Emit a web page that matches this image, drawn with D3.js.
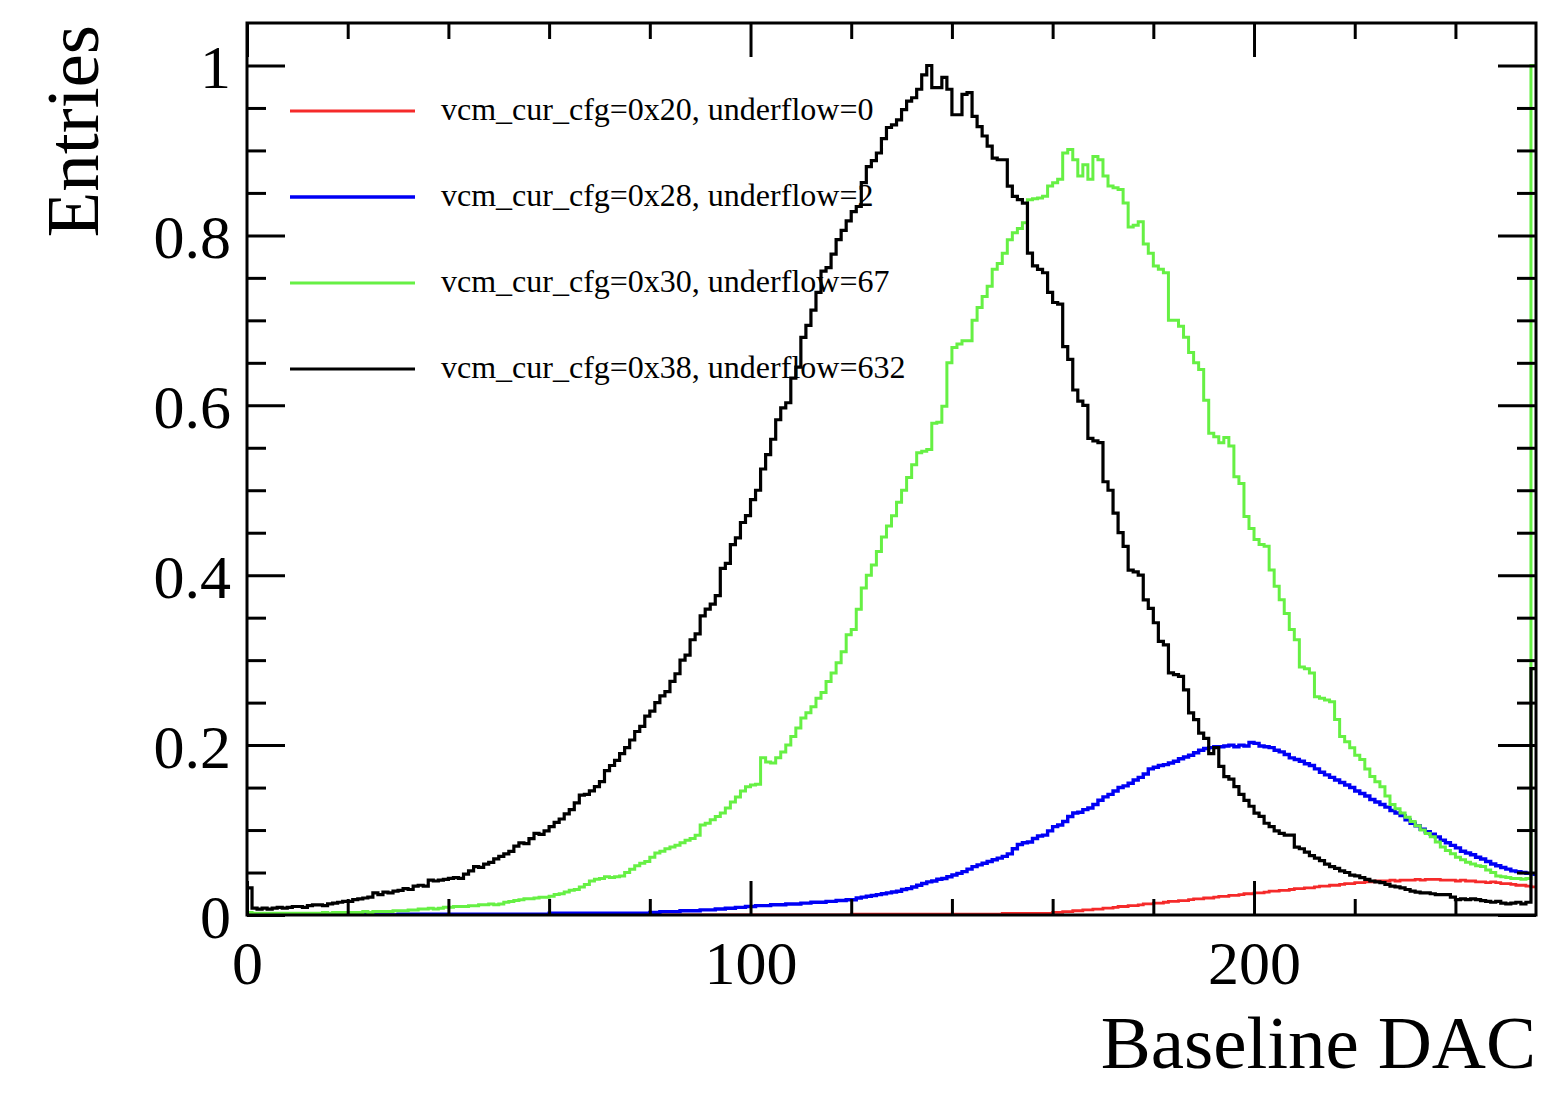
<html>
<head>
  <script src="https://d3js.org/d3.v7.min.js"></script>
  <style>
    body { margin: 0; background: #fff; }
    text { font-family: "Liberation Serif", "Times New Roman", serif; fill: #000; }
  </style>
</head>
<body>
  <div id="chart"></div>
  <script>
    // normalised bin contents, one value per DAC bin 0..255
    const cfg20 = [
      0,0,0,0,0,0,0,0,0,0,0,0,0,0,0,0,
      0,0,0,0,0,0,0,0,0,0,0,0,0,0,0,0,
      0,0,0,0,0,0,0,0,0,0,0,0,0,0,0,0,
      0,0,0,0,0,0,0,0,0,0,0,0,0,0,0,0,
      0,0,0,0,0,0,0,0,0,0,0,0,0,0,0,0,
      0,0,0,0,0,0,0,0,0,0,0,0,0,0,0,0,
      0,0,0,0,0,0,0,0,0,0,0,0,0,0,0,0,
      0,0,0,0,0,0,0,0,.001,.001,.001,.001,.001,.001,.001,.001,
      .001,.001,.001,.001,.001,.001,.001,.001,.001,.001,.001,.001,.001,.001,.001,.001,
      .001,.001,.001,.001,.001,.001,.002,.002,.002,.002,.002,.002,.002,.002,.002,.002,
      .003,.003,.004,.004,.005,.005,.006,.006,.007,.007,.008,.008,.009,.010,.010,.011,
      .011,.012,.013,.013,.014,.014,.015,.016,.016,.017,.017,.018,.019,.019,.020,.020,
      .021,.022,.022,.023,.023,.024,.025,.025,.026,.026,.027,.028,.028,.029,.029,.030,
      .031,.031,.032,.032,.033,.034,.034,.035,.035,.036,.037,.037,.038,.038,.039,.039,
      .040,.040,.040,.041,.040,.041,.041,.041,.042,.041,.042,.042,.042,.041,.041,.041,
      .040,.041,.040,.040,.039,.039,.038,.039,.038,.037,.037,.036,.035,.035,.034,.033
    ];
    const cfg28 = [
      0,0,0,0,0,0,0,0,0,0,0,0,0,0,0,0,
      0,0,0,0,0,0,0,0,0,0,0,0,0,0,.001,.001,
      .001,.001,.001,.001,.001,.001,.001,.001,.001,.001,.001,.001,.001,.001,.001,.001,
      .001,.001,.001,.001,.001,.001,.001,.001,.001,.001,.001,.001,.002,.002,.002,.002,
      .002,.002,.002,.002,.002,.002,.002,.002,.002,.002,.002,.002,.002,.002,.002,.002,
      .003,.003,.004,.004,.004,.004,.005,.005,.005,.005,.006,.006,.006,.007,.007,.008,
      .008,.009,.009,.010,.010,.011,.011,.011,.012,.012,.012,.013,.013,.013,.014,.014,
      .015,.015,.015,.016,.016,.017,.017,.018,.018,.020,.021,.022,.023,.024,.025,.026,
      .027,.028,.030,.031,.033,.035,.037,.039,.040,.042,.043,.045,.047,.049,.051,.054,
      .057,.059,.061,.063,.065,.067,.069,.072,.078,.083,.085,.086,.090,.093,.094,.099,
      .104,.106,.110,.116,.120,.121,.124,.126,.130,.135,.139,.142,.146,.150,.152,.155,
      .159,.162,.166,.172,.174,.176,.177,.179,.181,.184,.186,.188,.191,.194,.196,.197,
      .198,.198,.199,.200,.198,.200,.199,.203,.202,.199,.198,.197,.194,.192,.189,.185,
      .183,.181,.178,.176,.172,.168,.165,.162,.159,.156,.153,.150,.146,.143,.140,.136,
      .133,.130,.127,.123,.120,.117,.112,.108,.105,.101,.098,.095,.092,.088,.085,.082,
      .079,.075,.073,.071,.068,.066,.063,.060,.058,.056,.054,.052,.051,.050,.049,.048
    ];
    const cfg30 = [
      .003,.002,.002,.002,.002,.002,.002,.002,.002,.002,.002,.002,.002,.002,.002,.003,
      .002,.003,.003,.003,.003,.003,.003,.004,.003,.004,.004,.004,.004,.005,.005,.005,
      .006,.006,.007,.007,.008,.007,.008,.009,.009,.010,.010,.010,.011,.011,.012,.012,
      .013,.012,.013,.015,.016,.017,.018,.019,.019,.020,.021,.021,.022,.024,.025,.027,
      .029,.030,.033,.036,.040,.042,.043,.045,.044,.045,.046,.050,.054,.058,.061,.063,
      .068,.073,.075,.078,.080,.082,.085,.088,.090,.094,.106,.108,.112,.116,.120,.126,
      .133,.139,.146,.151,.153,.154,.185,.180,.179,.185,.192,.200,.210,.220,.232,.238,
      .245,.255,.262,.275,.285,.297,.310,.330,.336,.360,.385,.400,.412,.428,.445,.458,
      .470,.486,.500,.515,.530,.544,.546,.548,.579,.580,.599,.650,.668,.672,.676,.676,
      .700,.715,.728,.740,.760,.767,.779,.795,.803,.808,.815,.842,.843,.844,.846,.858,
      .862,.866,.897,.901,.889,.870,.883,.866,.893,.889,.870,.858,.856,.854,.838,.810,
      .812,.816,.790,.779,.764,.760,.756,.700,.700,.693,.680,.662,.650,.642,.606,.567,
      .563,.556,.562,.552,.516,.508,.469,.455,.442,.436,.434,.406,.387,.371,.355,.336,
      .324,.292,.290,.285,.257,.255,.253,.251,.230,.210,.204,.197,.188,.183,.172,.163,
      .157,.151,.140,.130,.125,.120,.115,.110,.105,.100,.096,.092,.086,.080,.076,.072,
      .068,.065,.062,.060,.058,.057,.053,.050,.046,.045,.044,.043,.043,.042,.043,1.000
    ];
    const cfg38 = [
      .032,.008,.007,.008,.007,.008,.009,.008,.009,.010,.010,.009,.011,.012,.012,.011,
      .013,.014,.015,.016,.016,.018,.019,.020,.021,.026,.024,.027,.026,.028,.029,.031,
      .030,.034,.035,.034,.041,.040,.041,.042,.043,.044,.043,.048,.052,.057,.056,.060,
      .062,.066,.069,.072,.075,.081,.085,.084,.090,.096,.095,.099,.104,.109,.113,.119,
      .124,.132,.141,.142,.146,.151,.157,.170,.176,.182,.190,.197,.206,.216,.222,.234,
      .240,.250,.258,.263,.275,.284,.300,.306,.324,.331,.352,.360,.366,.376,.408,.414,
      .436,.444,.462,.470,.489,.500,.525,.542,.560,.583,.597,.603,.632,.645,.680,.694,
      .712,.733,.758,.762,.778,.795,.806,.817,.828,.834,.862,.881,.888,.897,.914,.927,
      .930,.936,.948,.958,.962,.972,.989,1.000,.974,.974,.986,.972,.942,.942,.966,.968,
      .940,.928,.917,.905,.891,.889,.889,.858,.846,.842,.838,.779,.764,.760,.756,.733,
      .721,.719,.669,.654,.618,.605,.600,.561,.558,.556,.510,.500,.473,.450,.434,.406,
      .404,.400,.371,.361,.344,.322,.318,.285,.283,.281,.265,.238,.230,.214,.208,.190,
      .197,.175,.163,.160,.151,.142,.135,.128,.120,.116,.108,.104,.099,.096,.094,.094,
      .080,.078,.074,.070,.067,.064,.060,.057,.055,.052,.050,.047,.046,.044,.042,.040,
      .039,.038,.036,.034,.033,.032,.030,.028,.027,.026,.026,.025,.024,.024,.024,.021,
      .018,.019,.018,.019,.018,.017,.016,.015,.016,.014,.013,.014,.015,.013,.015,.290
    ];

    const legendLabels = [
      "vcm_cur_cfg=0x20, underflow=0",
      "vcm_cur_cfg=0x28, underflow=2",
      "vcm_cur_cfg=0x30, underflow=67",
      "vcm_cur_cfg=0x38, underflow=632"
    ];
    const xMajor = [0, 100, 200];
    const xMinor = [20, 40, 60, 80, 120, 140, 160, 180, 220, 240];
    const yMajor = [0, 0.2, 0.4, 0.6, 0.8, 1];
    const yMinor = [0.05, 0.1, 0.15, 0.25, 0.3, 0.35, 0.45, 0.5, 0.55, 0.65, 0.7, 0.75, 0.85, 0.9, 0.95];

    const series = [cfg20, cfg28, cfg30, cfg38];
    const colors = ["#f52a2a", "#0000f5", "#66f044", "#000000"];
    const widths = [2.8, 3.4, 3, 3.2];

    const w = 1562, h = 1096;
    const padL = 247, padR = 1536, padT = 23, padB = 915;

    const svg = d3.select("#chart").append("svg")
      .attr("width", w).attr("height", h);

    const x = d3.scaleLinear().domain([0, 256]).range([padL, padR]);
    const y = d3.scaleLinear().domain([0, 1.05]).range([padB, padT]);

    svg.append("clipPath").attr("id", "plot")
      .append("rect")
      .attr("x", padL).attr("y", padT)
      .attr("width", padR - padL).attr("height", padB - padT);

    const line = d3.line()
      .x(d => x(d[0]))
      .y(d => y(d[1]))
      .curve(d3.curveStepAfter);

    series.forEach((vals, k) => {
      const pts = [[0, 0]];
      vals.forEach((v, i) => pts.push([i, v]));
      pts.push([256, vals[vals.length - 1]]);
      svg.append("path")
        .attr("clip-path", "url(#plot)")
        .attr("d", line(pts))
        .attr("fill", "none")
        .attr("stroke", colors[k])
        .attr("stroke-width", widths[k])
        .attr("stroke-linejoin", "miter");
    });

    // axes, ROOT style: ticks inside on all four sides
    function styleAxis(g) {
      g.select(".domain").remove();
      g.selectAll(".tick line").attr("stroke", "#000").attr("stroke-width", 3);
      g.selectAll("text").style("font-size", "62px")
        .style("font-family", '"Liberation Serif", serif').attr("fill", "#000");
    }

    svg.append("g").attr("transform", "translate(0," + padB + ")")
      .call(d3.axisBottom(x).tickValues(xMinor).tickSize(-16).tickFormat(""))
      .call(styleAxis);
    svg.append("g").attr("transform", "translate(0," + padB + ")")
      .call(d3.axisBottom(x).tickValues(xMajor).tickSize(-34).tickPadding(25).tickFormat(d3.format("d")))
      .call(styleAxis);
    svg.append("g").attr("transform", "translate(0," + padT + ")")
      .call(d3.axisTop(x).tickValues(xMinor).tickSize(-16).tickFormat(""))
      .call(styleAxis);
    svg.append("g").attr("transform", "translate(0," + padT + ")")
      .call(d3.axisTop(x).tickValues(xMajor).tickSize(-34).tickFormat(""))
      .call(styleAxis);

    svg.append("g").attr("transform", "translate(" + padL + ",0)")
      .call(d3.axisLeft(y).tickValues(yMinor).tickSize(-19).tickFormat(""))
      .call(styleAxis);
    svg.append("g").attr("transform", "translate(" + padL + ",0)")
      .call(d3.axisLeft(y).tickValues(yMajor).tickSize(-38).tickPadding(16).tickFormat(d3.format("")))
      .call(styleAxis)
      .call(g => g.selectAll("text").attr("dy", "0.36em"));
    svg.append("g").attr("transform", "translate(" + padR + ",0)")
      .call(d3.axisRight(y).tickValues(yMinor).tickSize(-19).tickFormat(""))
      .call(styleAxis);
    svg.append("g").attr("transform", "translate(" + padR + ",0)")
      .call(d3.axisRight(y).tickValues(yMajor).tickSize(-38).tickFormat(""))
      .call(styleAxis);

    svg.append("rect")
      .attr("x", padL).attr("y", padT)
      .attr("width", padR - padL).attr("height", padB - padT)
      .attr("fill", "none").attr("stroke", "#000").attr("stroke-width", 3);

    svg.append("text")
      .attr("x", padR).attr("y", 1068)
      .attr("text-anchor", "end")
      .style("font-size", "75px")
      .text("Baseline DAC");

    svg.append("text")
      .attr("transform", "translate(98," + (padT + 2) + ") rotate(-90)")
      .attr("text-anchor", "end")
      .style("font-size", "75px")
      .text("Entries");

    // legend
    const legend = svg.selectAll(".legend")
      .data(legendLabels)
      .enter()
      .append("g")
      .attr("class", "legend")
      .attr("transform", (d, i) => "translate(0," + (111 + i * 86) + ")");

    legend.append("line")
      .attr("x1", 290).attr("x2", 415)
      .attr("stroke", (d, i) => colors[i])
      .attr("stroke-width", (d, i) => widths[i]);

    legend.append("text")
      .attr("x", 441).attr("y", 9)
      .style("font-size", "32px")
      .attr("fill", "#111")
      .text(d => d);
  </script>
</body>
</html>
